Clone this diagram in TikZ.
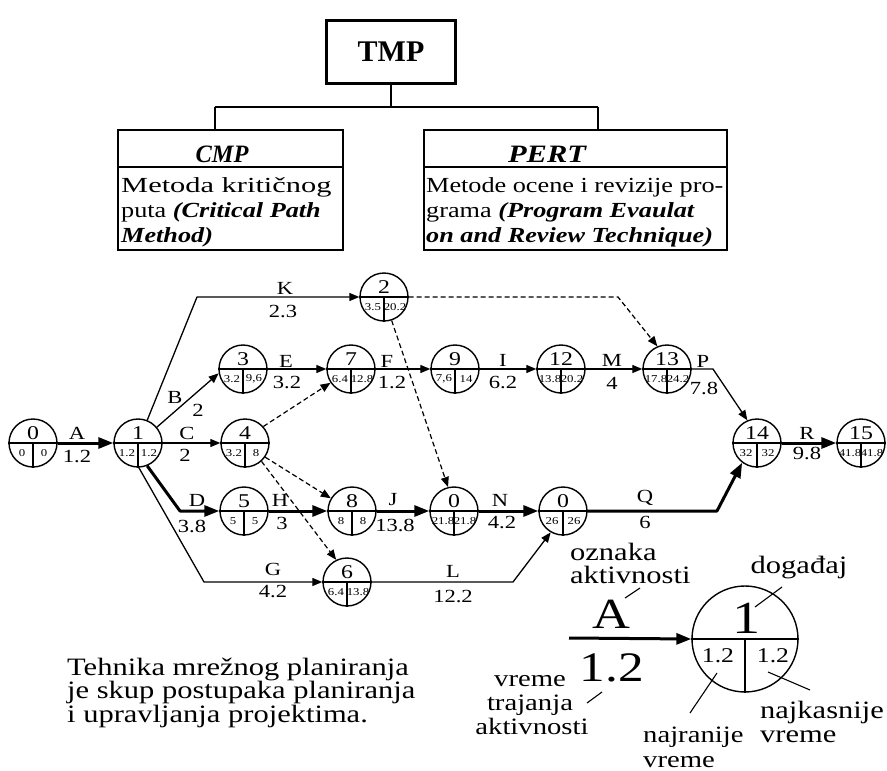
\documentclass[tikz,border=0pt]{standalone}
\usepackage{fontspec}
\usepackage{graphicx}
\setmainfont{Liberation Serif}[FakeStretch=1.22]
\newfontfamily\tmpfont{Liberation Serif}
\usetikzlibrary{arrows.meta}
\tikzset{
  evt/.style={circle, draw, line width=1.4pt, minimum size=48pt, inner sep=0pt},
  divl/.style={line width=1.1pt},
  evnum/.style={inner sep=0pt, font=\fontsize{19.5}{20}\selectfont},
  evval/.style={inner sep=0pt, font=\fontsize{10.5}{11}\selectfont},
  elab/.style={inner sep=0pt, font=\fontsize{18.5}{19}\selectfont},
  thinarr/.style={line width=1.3pt, line join=round, -{Triangle[length=10pt,width=8pt]}},
  thickarr/.style={line width=3pt, line join=round, -{Triangle[length=15pt,width=11pt]}},
  dasharr/.style={line width=1.2pt, dash pattern=on 5pt off 3pt, -{Triangle[length=10pt,width=8pt]}},
  txt/.style={inner sep=0pt, anchor=base west, font=\fontsize{25}{26}\selectfont},
  stxt/.style={inner sep=0pt, anchor=base west, font=\fontsize{23.5}{24}\selectfont},
  boxtxt/.style={inner sep=0pt, anchor=base west, font=\fontsize{21.5}{22}\selectfont},
  boxtitle/.style={inner sep=0pt, anchor=base, font=\bfseries\itshape\fontsize{25}{25}\selectfont},
  frame/.style={draw, line width=2pt, inner sep=0pt},
  tree/.style={line width=1.2pt},
  ptr/.style={line width=1.1pt},
}
\newcommand\mkevent[5]{%
  \node[evt] (#1) at (#2) {};
  \draw[divl] (#1.west) -- (#1.east);
  \draw[divl] (#1.center) -- (#1.south);
  \node[evnum] (#1n) at ([yshift=10pt]#1.center) {#3};
  \node[evval] (#1l) at ([xshift=-11pt,yshift=-10pt]#1.center) {#4};
  \node[evval] (#1r) at ([xshift=11pt,yshift=-10pt]#1.center) {#5};
}
\begin{document}
\begin{tikzpicture}[x=1pt,y=-1pt]
\useasboundingbox (0,0) rectangle (887,771);
\fill[white] (0,0) rectangle (887,771);

% ---------- hierarchy ----------
\node[frame, line width=2.4pt, minimum width=129pt, minimum height=63pt,
      font=\tmpfont\bfseries\fontsize{30}{30}\selectfont] (tmp) at (391,52) {TMP};
\node[frame, minimum width=225pt, minimum height=120pt] (cmp) at (230.5,190) {};
\node[frame, minimum width=303pt, minimum height=120pt] (pert) at (575.5,190) {};
\draw[line width=1.5pt] ([yshift=-38pt]cmp.north west) -- ([yshift=-38pt]cmp.north east);
\draw[line width=1.5pt] ([yshift=-38pt]pert.north west) -- ([yshift=-38pt]pert.north east);
\coordinate (jl) at (215,107);
\coordinate (jr) at (598,107);
\draw[tree] (tmp.south) -- (tmp.south |- jl);
\draw[tree] (jl) -- (jr);
\draw[tree] (jl) -- (jl |- cmp.north);
\draw[tree] (jr) -- (jr |- pert.north);

\node[boxtitle] (cmpt) at (222,162) {\scalebox{0.8}[1]{CMP}};
\node[boxtxt] (cmp1) at (121,192) {\scalebox{1.16}[1]{Metoda kritičnog}};
\node[boxtxt] (cmp2) at (121,217) {puta \textbf{\textit{(Critical Path}}};
\node[boxtxt] (cmp3) at (121,242) {\textbf{\textit{Method)}}};
\node[boxtitle] (pertt) at (547,162) {PERT};
\node[boxtxt] (pert1) at (426,192) {Metode ocene i revizije pro-};
\node[boxtxt] (pert2) at (426,217) {grama \textbf{\textit{(Program Evaulat}}};
\node[boxtxt] (pert3) at (426,242) {\textbf{\textit{on and Review Technique)}}};

% ---------- network events ----------
\mkevent{n0}{33,443}{0}{0}{0}
\mkevent{n1}{138,443}{1}{1.2}{1.2}
\mkevent{n2}{384,297}{2}{3.5}{20.2}
\mkevent{n3}{243,369}{3}{3.2}{9,6}
\mkevent{n4}{245,443}{4}{3.2}{8}
\mkevent{n5}{244,511}{5}{5}{5}
\mkevent{n6}{347,582}{6}{6.4}{13.8}
\mkevent{n7}{351,369}{7}{6.4}{12.8}
\mkevent{n8}{352,511}{8}{8}{8}
\mkevent{n9}{455,369}{9}{7,6}{14}
\mkevent{n12}{561,369}{12}{13.8}{20.2}
\mkevent{n13}{667,369}{13}{17.8}{24.2}
\mkevent{nx}{454,511}{0}{21.8}{21.8}
\mkevent{ny}{563,511}{0}{26}{26}
\mkevent{n14}{757,443}{14}{32}{32}
\mkevent{n15}{861,443}{15}{41.8}{41.8}

% bends
\coordinate (kb) at (197,297);
\coordinate (db) at (180,511);
\coordinate (gb) at (204,582);
\coordinate (mb) at (618,297);
\coordinate (lb) at (513,582);
\coordinate (qb) at (717,511);
\coordinate (pb) at (713,369);

% activities
\draw[thickarr] (n0.east) -- (n1.west);
\draw[thinarr] (n1.40) -- (n3.190);
\draw[thinarr] (n1.east) -- (n4.west);
\draw[thinarr] (n1.68) -- (kb) -- (n2.west);
\draw[thickarr] (n1.-68) -- (db) -- (n5.west);
\draw[thinarr] (n1.-88) -- (gb) -- (n6.west);
\draw[thinarr] (n3.east) -- (n7.west);
\draw[thinarr] (n7.east) -- (n9.west);
\draw[thinarr] (n9.east) -- (n12.west);
\draw[thinarr] (n12.east) -- (n13.west);
\draw[thinarr] (n13.east) -- (pb) -- (n14.113);
\draw[thickarr] (n14.east) -- (n15.west);
\draw[thickarr] (n5.east) -- (n8.west);
\draw[thickarr] (n8.east) -- (nx.west);
\draw[thickarr] (nx.east) -- (ny.west);
\draw[thickarr] (ny.east) -- (qb) -- (n14.233);
\draw[thinarr] (n6.east) -- (lb) -- (ny.240);
% dummy activities
\draw[dasharr] (n2.east) -- (mb) -- (n13.113);
\draw[dasharr] (n2.-72) -- (nx.104);
\draw[dasharr] (n4.42) -- (n7.214);
\draw[dasharr] (n4.-35) -- (n8.149);
\draw[dasharr] (n4.-48) -- (n6.116);

% activity labels
\node[elab] (lA) at (77,433) {A};   \node[elab] (dA) at (77,457) {1.2};
\node[elab] (lB) at (175,397) {B};  \node[elab] (dB) at (198,410) {2};
\node[elab] (lC) at (187,433) {C};  \node[elab] (dC) at (185,455) {2};
\node[elab] (lK) at (285,288) {K};  \node[elab] (dK) at (283,312) {2.3};
\node[elab] (lE) at (286,361) {E};  \node[elab] (dE) at (287,383) {3.2};
\node[elab] (lF) at (387,361) {F};  \node[elab] (dF) at (392,383) {1.2};
\node[elab] (lI) at (503,360) {I};  \node[elab] (dI) at (503,383) {6.2};
\node[elab] (lM) at (612,360) {M};  \node[elab] (dM) at (612,383) {4};
\node[elab] (lP) at (703,361) {P};  \node[elab] (dP) at (704,388) {7.8};
\node[elab] (lR) at (807,433) {R};  \node[elab] (dR) at (807,453) {9.8};
\node[elab] (lD) at (197,500) {D};  \node[elab] (dD) at (192,526) {3.8};
\node[elab] (lH) at (280,500) {H};  \node[elab] (dH) at (282,523) {3};
\node[elab] (lJ) at (393,500) {J};  \node[elab] (dJ) at (395,525) {13.8};
\node[elab] (lN) at (500,500) {N};  \node[elab] (dN) at (502,523) {4.2};
\node[elab] (lQ) at (645,498) {Q};  \node[elab] (dQ) at (645,522) {6};
\node[elab] (lG) at (273,569) {G};  \node[elab] (dG) at (273,592) {4.2};
\node[elab] (lL) at (453,571) {L};  \node[elab] (dL) at (453,597) {12.2};

% ---------- legend ----------
\node[evt, minimum size=106pt] (lg) at (745,639) {};
\draw[divl] (lg.west) -- (lg.east);
\draw[divl] (lg.center) -- (lg.south);
\node[inner sep=0pt, font=\fontsize{46}{46}\selectfont] (lgn) at (747,618) {1};
\node[inner sep=0pt, font=\fontsize{21}{21}\selectfont] (lgl) at (718,656) {1.2};
\node[inner sep=0pt, font=\fontsize{21}{21}\selectfont] (lgr) at (773,656) {1.2};
\coordinate (legs) at (569,638);
\draw[thickarr] (legs) -- (lg.west);
\node[inner sep=0pt, font=\fontsize{43}{43}\selectfont] (bigA) at (611,614) {A};
\node[inner sep=0pt, font=\fontsize{42}{42}\selectfont] (big12) at (612,668) {1.2};

\node[txt] (oz1) at (570,560) {oznaka};
\node[txt] (oz2) at (570,583) {aktivnosti};
\node[txt, anchor=base] (dog) at (799,573) {događaj};
\node[txt] (nk1) at (760,718) {najkasnije};
\node[txt] (nk2) at (760,742) {vreme};
\node[stxt] (nr1) at (643,742) {najranije};
\node[stxt] (nr2) at (643,767) {vreme};
\node[stxt, anchor=base] (vt1) at (530,686) {vreme};
\node[stxt, anchor=base] (vt2) at (530,710) {trajanja};
\node[stxt, anchor=base] (vt3) at (532,734) {aktivnosti};

\draw[ptr] (640,588) -- (625,598);
\draw[ptr] (782,587) -- (755,607);
\draw[ptr] (717,673) -- (690,713);
\draw[ptr] (768,672) -- (810,690);
\draw[ptr] (602,692) -- (587,703);

% ---------- description ----------
\node[txt] (d1) at (67,675) {Tehnika mrežnog planiranja};
\node[txt] (d2) at (67,698) {je skup postupaka planiranja};
\node[txt] (d3) at (67,722) {i upravljanja projektima.};
\end{tikzpicture}
\end{document}
